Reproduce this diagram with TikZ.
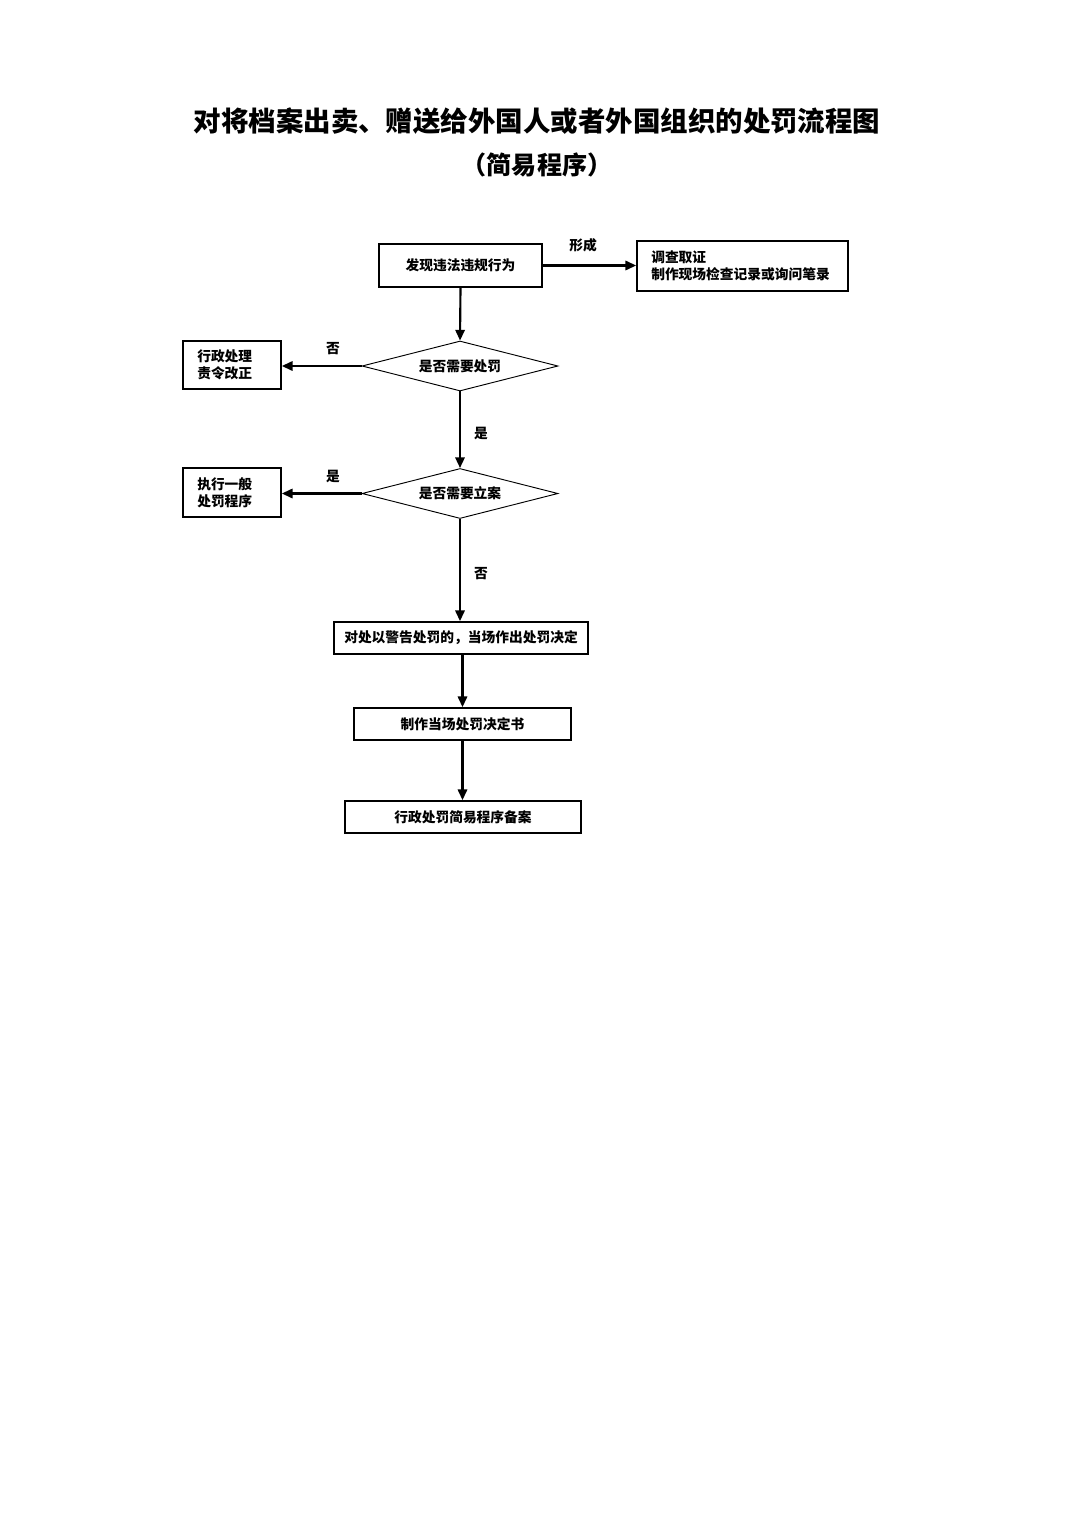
\documentclass[tikz,border=0pt]{standalone}
\usepackage{fontspec}
\setmainfont{Noto Sans CJK SC}
\usetikzlibrary{arrows.meta,shapes.geometric}
\tikzset{
  box/.style={draw,line width=1.3pt,inner sep=0pt,font=\bfseries\fontsize{10.3}{13}\selectfont},
  dia/.style={draw,line width=0.7pt,diamond,aspect=3.92,inner sep=0pt,minimum width=196*0.75pt,minimum height=50*0.75pt,font=\bfseries\fontsize{10.3}{13}\selectfont},
  arr/.style={line width=1.6pt,-{Triangle[length=8pt,width=7pt]}},
  lbl/.style={font=\bfseries\fontsize{10.3}{13}\selectfont},
  side/.style={lbl,align=left,anchor=west,inner sep=0pt},
}
\begin{document}
\begin{tikzpicture}[x=0.75pt,y=-0.75pt]
\useasboundingbox (0,0) rectangle (1075,1520);
\node[font=\bfseries\fontsize{20.6}{24}\selectfont] (t1) at (537,121) {对将档案出卖、赠送给外国人或者外国组织的处罚流程图};
\node[font=\bfseries\fontsize{18.8}{22}\selectfont] (t2) at (537,165) {（简易程序）};

\node[box,minimum width=163*0.75pt,minimum height=43*0.75pt] (b1) at (460.5,265.5) {发现违法违规行为};
\node[box,minimum width=211*0.75pt,minimum height=50*0.75pt] (b2) at (742.5,266) {};
\node[side] (b2t) at (651,266) {调查取证\\制作现场检查记录或询问笔录};
\node[dia] (d1) at (460,366) {是否需要处罚};
\node[box,minimum width=98*0.75pt,minimum height=48*0.75pt] (b3) at (232,365) {};
\node[side] (b3t) at (197,365) {行政处理\\责令改正};
\node[dia] (d2) at (460,493.5) {是否需要立案};
\node[box,minimum width=98*0.75pt,minimum height=49*0.75pt] (b4) at (232,492.5) {};
\node[side] (b4t) at (197,492.5) {执行一般\\处罚程序};
\node[box,minimum width=254*0.75pt,minimum height=32*0.75pt] (b5) at (461,638) {对处以警告处罚的，当场作出处罚决定};
\node[box,minimum width=217*0.75pt,minimum height=32*0.75pt] (b6) at (462.5,724) {制作当场处罚决定书};
\node[box,minimum width=236*0.75pt,minimum height=32*0.75pt] (b7) at (463,817) {行政处罚简易程序备案};

\draw[arr] (b1.east) -- (b2.west|-b1.east);
\node[lbl] (l1) at (583,245) {形成};
\draw[arr] (b1.south) -- (d1.north);
\draw[arr] (d1.west) -- (b3.east|-d1.west);
\node[lbl] (l2) at (333,349) {否};
\draw[arr] (d1.south) -- (d2.north);
\node[lbl] (l3) at (481,433) {是};
\draw[arr] (d2.west) -- (b4.east|-d2.west);
\node[lbl] (l4) at (333,476) {是};
\draw[arr] (d2.south) -- (d2.south|-b5.north);
\node[lbl] (l5) at (481,574) {否};
\draw[arr] (462.5,654) coordinate (c1) -- (c1|-b6.north);
\draw[arr] (b6.south) -- (b6.south|-b7.north);
\end{tikzpicture}
\end{document}
